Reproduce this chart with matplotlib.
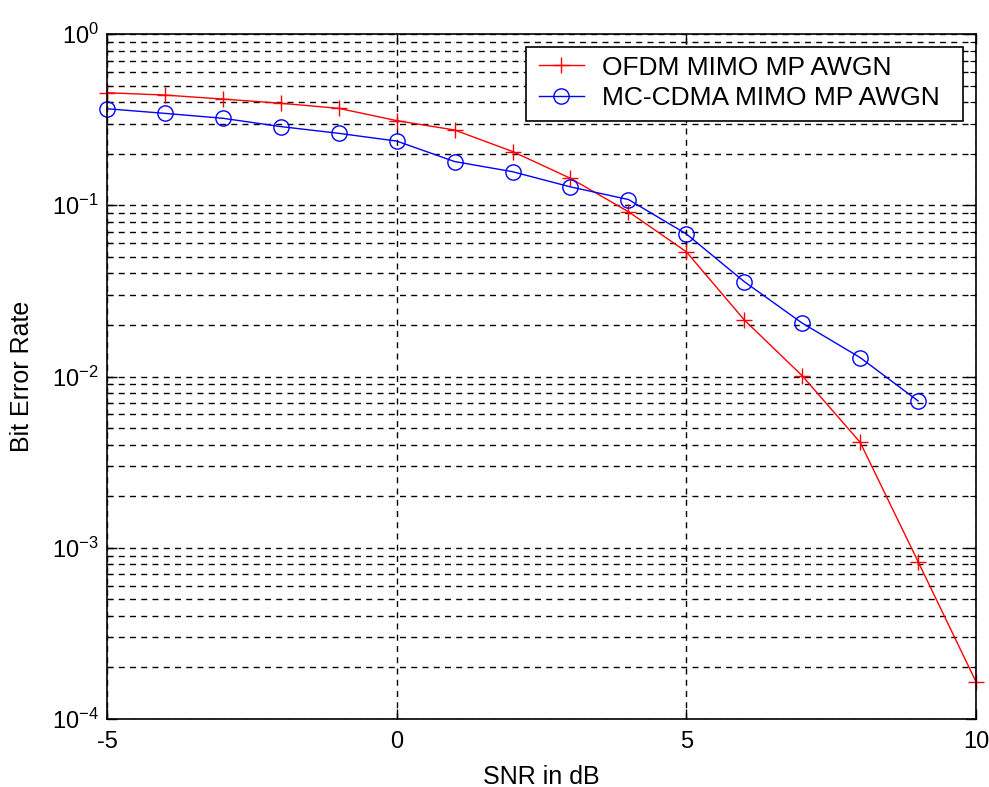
import matplotlib
matplotlib.use("Agg")
import matplotlib.pyplot as plt
from matplotlib.ticker import LogLocator, FixedLocator, NullFormatter
from matplotlib.patches import Rectangle

plt.rcParams['font.family'] = ['Liberation Sans', 'DejaVu Sans']
plt.rcParams['mathtext.fontset'] = 'custom'
plt.rcParams['mathtext.rm'] = 'Liberation Sans'
plt.rcParams['mathtext.it'] = 'Liberation Sans'
plt.rcParams['mathtext.default'] = 'regular'

snr = [-5, -4, -3, -2, -1, 0, 1, 2, 3, 4, 5, 6, 7, 8, 9, 10]
ber_ofdm = [0.454, 0.44, 0.417, 0.394, 0.368, 0.312, 0.275, 0.206, 0.1436,
            0.0917, 0.0535, 0.0214, 0.0101, 0.00413, 0.00083, 0.000165]
snr_mc = [-5, -4, -3, -2, -1, 0, 1, 2, 3, 4, 5, 6, 7, 8, 9]
ber_mc = [0.366, 0.344, 0.322, 0.288, 0.263, 0.237, 0.18, 0.157, 0.128,
          0.108, 0.068, 0.0358, 0.0205, 0.0129, 0.0072]
labels = ['OFDM MIMO MP AWGN', 'MC-CDMA MIMO MP AWGN']
xticks = [-5, 0, 5, 10]

fig = plt.figure(figsize=(9.89, 7.87), dpi=100)
ax = fig.add_axes([107/989, 68/787, 869/989, 685/787])

ax.semilogy(snr, ber_ofdm, color='#ff0000', marker='+', markersize=12,
            markeredgewidth=1.0, linewidth=1.0, label=labels[0], clip_on=False)
ax.semilogy(snr_mc, ber_mc, color='#0000ff', marker='o', markersize=11,
            markerfacecolor='none', markeredgewidth=1.0, linewidth=1.0,
            label=labels[1], clip_on=False)

ax.set_xlim(-5, 10)
ax.set_ylim(1e-4, 1)
ax.xaxis.set_major_locator(FixedLocator(xticks))
ax.set_xticklabels([str(t) for t in xticks])
ax.yaxis.set_major_locator(LogLocator(base=10, numticks=10))
ax.yaxis.set_minor_locator(LogLocator(base=10, subs=range(2, 10), numticks=20))
ax.yaxis.set_minor_formatter(NullFormatter())

dash = (0, (4.3, 3.8))
ax.grid(True, which='major', axis='both', color='black', linestyle=dash, linewidth=1.0)
ax.grid(True, which='minor', axis='y', color='black', linestyle=dash, linewidth=1.0)

ax.tick_params(which='both', direction='in', top=True, right=True,
               labelsize=17, colors='black')
ax.tick_params(which='major', length=7, width=1)
ax.tick_params(which='minor', length=4, width=0.8)
ax.tick_params(axis='x', pad=9)
ax.tick_params(axis='y', pad=6)
for s in ax.spines.values():
    s.set_linewidth(1.2)
    s.set_color('black')

ax.set_xlabel('SNR in dB', fontsize=18, labelpad=8)
ax.set_ylabel('Bit Error Rate', fontsize=18, labelpad=13)

# legend frame (MATLAB style, with wider right margin)
box = Rectangle((0.482, 0.873), 0.503, 0.108, transform=ax.transAxes,
                facecolor='white', edgecolor='black', linewidth=1.2,
                zorder=4.9, clip_on=False)
ax.add_patch(box)
leg = ax.legend(loc='center left', bbox_to_anchor=(0.497, 0.9287),
                borderaxespad=0, borderpad=0, fontsize=19, frameon=False,
                handlelength=1.7, handletextpad=0.68, labelspacing=0.25)
leg.set_zorder(5)

fig.savefig('out.png', dpi=100)
